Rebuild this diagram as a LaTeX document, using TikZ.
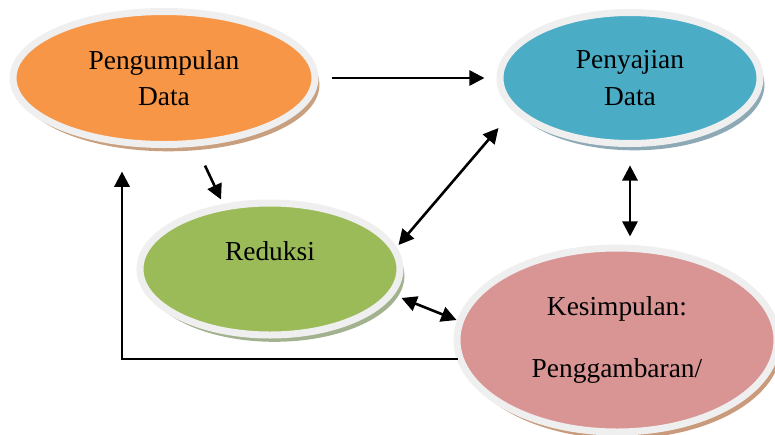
\documentclass[tikz,border=0pt]{standalone}
\usepackage{fontspec}
\setmainfont{Liberation Serif}
\usetikzlibrary{shapes.geometric,shadows,arrows.meta,calc}
\definecolor{pengfill}{HTML}{F79646}
\definecolor{pengshade}{HTML}{C9A07F}
\definecolor{penyfill}{HTML}{4BACC6}
\definecolor{penyshade}{HTML}{8CA9B5}
\definecolor{redfill}{HTML}{9BBB59}
\definecolor{redshade}{HTML}{A3B28E}
\definecolor{kesfill}{HTML}{D99594}
\definecolor{kesshade}{HTML}{C99A7C}
\definecolor{ring}{HTML}{EFEFEF}
\tikzset{
  bubble/.style={ellipse,draw=ring,line width=0.175cm,fill=#1fill,
    drop shadow={fill=#1shade,opacity=1,shadow xshift=0.11cm,shadow yshift=-0.17cm},
    align=center,text=black,font=\fontsize{19.5}{26}\selectfont},
  arr/.style={-{Triangle[length=0.38cm,width=0.38cm]},line width=0.065cm},
  dblarr/.style={{Triangle[length=0.38cm,width=0.38cm]}-{Triangle[length=0.38cm,width=0.38cm]},line width=0.065cm}
}
\begin{document}
\begin{tikzpicture}
\useasboundingbox (0,0) rectangle (19.375,-10.85);
\node[bubble=peng,minimum width=7.55cm,minimum height=3.325cm] (peng) at (4.1,-1.95) {Pengumpulan\\Data};
\node[bubble=peny,minimum width=6.5cm,minimum height=3.275cm] (peny) at (15.75,-1.95) {Penyajian\\Data};
\node[bubble=red,minimum width=6.5cm,minimum height=3.3cm] (red) at (6.75,-6.725) {Reduksi\\\mbox{}};
\node[bubble=kes,minimum width=8cm,minimum height=4.6cm] (kes) at (15.425,-8.5) {Kesimpulan:\\[18pt]Penggambaran/};
% arrows
\draw[arr] ([xshift=3.25mm]peng.east) -- ([xshift=-3mm]peny.west);
\draw[arr] ([xshift=10.25mm,yshift=-4.4mm]peng.south) -- ([xshift=-12.25mm]red.north);
\draw[dblarr] ([xshift=-1.25mm,yshift=6mm]red.east) -- ([xshift=0.5mm,yshift=-12.5mm]peny.west);
\draw[dblarr] ([yshift=-4.6mm]peny.south) -- ($(peny.south |- kes.north)+(0,2mm)$);
\draw[dblarr] ([xshift=-0.5mm,yshift=-7.25mm]red.east) -- ([xshift=0.75mm,yshift=5mm]kes.west);
\draw[arr] ([xshift=1mm,yshift=-4.75mm]kes.west) -| ([xshift=-10.5mm,yshift=-5.9mm]peng.south);
\end{tikzpicture}
\end{document}
